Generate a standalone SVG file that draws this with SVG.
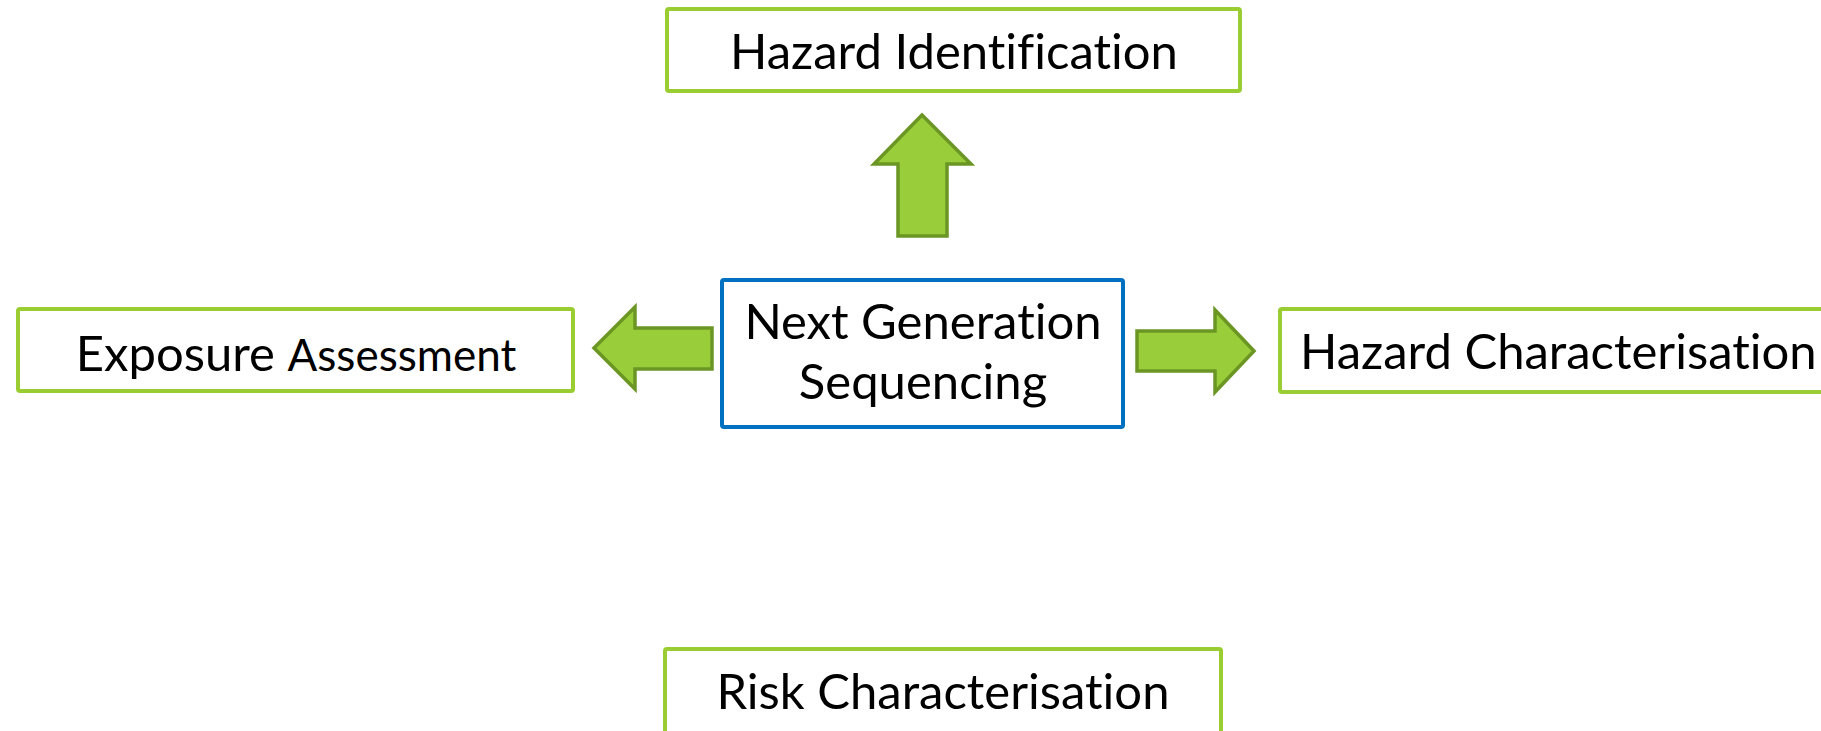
<svg xmlns="http://www.w3.org/2000/svg" width="1821" height="731" viewBox="0 0 1821 731">
  <style>
    .box { fill: #ffffff; stroke: #9ACD32; stroke-width: 4; }
    .core { fill: #ffffff; stroke: #0070C0; stroke-width: 4; }
    .arrow { fill: #9ACD3A; stroke: #6B9624; stroke-width: 3.5; stroke-linejoin: miter; }
    .label { font-family: Lato, "Open Sans", "Liberation Sans", sans-serif; font-size: 49px; fill: #000000;
             font-variant-ligatures: none; font-feature-settings: "liga" 0; }
    .mid { text-anchor: middle; }
  </style>
  <rect width="1821" height="731" fill="#ffffff"/>

  <!-- connectors: block arrows pointing out from the central node -->
  <g id="connectors">
    <polygon class="arrow" points="922,115 971,164 947,164 947,236 898,236 898,164 874,164"/>
    <polygon class="arrow" points="594,348 635,307 635,328 712,328 712,369 635,369 635,389"/>
    <polygon class="arrow" points="1254,351 1215,310 1215,331 1137,331 1137,371 1215,371 1215,392"/>
  </g>

  <g id="hazard-identification">
    <rect class="box" x="667" y="9" width="573" height="82" rx="2"/>
    <text class="label mid" x="954" y="69">Hazard Identification</text>
  </g>

  <g id="next-generation-sequencing">
    <rect class="core" x="722" y="280" width="401" height="147" rx="2"/>
    <text class="label mid" x="923" y="339">Next Generation</text>
    <text class="label mid" x="923" y="399">Sequencing</text>
  </g>

  <g id="exposure-assessment">
    <rect class="box" x="18" y="309" width="555" height="82" rx="2"/>
    <text class="label mid" x="296" y="371">Exposure <tspan font-size="44">Assessment</tspan></text>
  </g>

  <g id="hazard-characterisation">
    <rect class="box" x="1280" y="309" width="600" height="83" rx="2"/>
    <text class="label" x="1300" y="369">Hazard Characterisation</text>
  </g>

  <g id="risk-characterisation">
    <rect class="box" x="665" y="649" width="556" height="120" rx="2"/>
    <text class="label mid" x="943" y="709">Risk Characterisation</text>
  </g>
</svg>
